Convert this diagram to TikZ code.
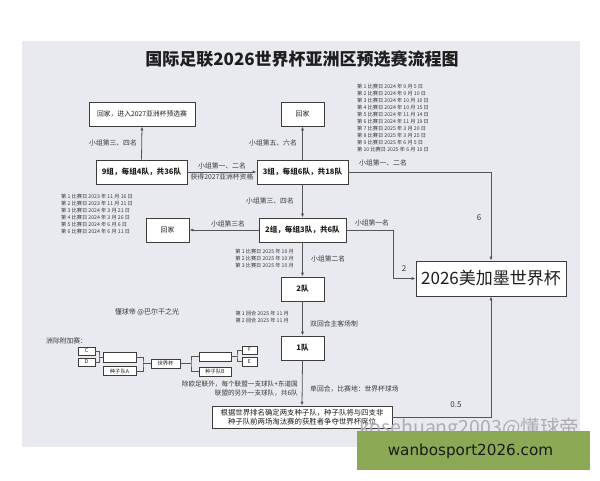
\documentclass[tikz,border=0pt]{standalone}
\usepackage{fontspec}
\setmainfont{Noto Sans CJK SC}
\newfontfamily\wmfont{DejaVu Sans}
\usetikzlibrary{arrows.meta}
\definecolor{panel}{HTML}{E8EAF0}
\definecolor{linec}{HTML}{555555}
\definecolor{boxc}{HTML}{3C3C3C}
\definecolor{txt}{HTML}{1E1E1E}
\definecolor{lab}{HTML}{383838}
\definecolor{banner}{HTML}{8BA954}
\definecolor{wmc}{HTML}{ADADB3}
\tikzset{
 box/.style={draw=boxc, fill=white, line width=0.8pt, inner sep=0pt, text=txt, align=center},
 bbox/.style={box, font=\bfseries\fontsize{7.6}{9}\selectfont},
 rbox/.style={box, font=\fontsize{6.8}{8}\selectfont},
 mini/.style={draw=boxc, fill=white, line width=0.5pt, inner sep=0pt, text=txt, font=\fontsize{5.3}{6}\selectfont},
 lbl/.style={inner sep=0pt, text=lab, font=\fontsize{6.8}{8}\selectfont},
 sched/.style={inner sep=0pt, text=lab, font=\fontsize{5.2}{7}\selectfont},
 arr/.style={draw=linec, line width=0.8pt, -{Latex[length=4pt,width=3.2pt]}},
 conn/.style={draw=linec, line width=0.6pt},
 wmark/.style={inner sep=0pt, anchor=base west, font=\fontsize{19.5}{20}\selectfont},
}
\begin{document}
\begin{tikzpicture}[x=1pt,y=-1pt]
\useasboundingbox (0,0) rectangle (600,480);
\fill[white] (0,0) rectangle (600,480);
\fill[panel] (22,41) rectangle (580,447);

% title
\node[inner sep=0pt, text=txt, font=\bfseries\fontsize{17}{20}\selectfont] (title) at (302,59) {国际足联2026世界杯亚洲区预选赛流程图};

% main boxes
\node[rbox, minimum width=106pt, minimum height=24pt] (h1) at (142,114) {回家，进入2027亚洲杯预选赛};
\node[bbox, minimum width=91pt, minimum height=24pt] (g9) at (141.5,172) {9组，每组4队，共36队};
\node[bbox, minimum width=91pt, minimum height=24pt] (g3) at (302.5,172) {3组，每组6队，共18队};
\node[rbox, minimum width=43pt, minimum height=24pt] (h2) at (302.5,114) {回家};
\node[bbox, minimum width=87pt, minimum height=24pt] (g2) at (302.5,230) {2组，每组3队，共6队};
\node[rbox, minimum width=43pt, minimum height=24pt] (h3) at (167.5,230) {回家};
\node[bbox, minimum width=43pt, minimum height=24pt] (t2) at (302.5,289) {2队};
\node[bbox, minimum width=43pt, minimum height=24pt] (t1) at (302.5,348) {1队};
\node[box, minimum width=150pt, minimum height=35pt, font=\fontsize{17}{20}\selectfont] (wc) at (491,278.5) {2026美加墨世界杯};
\node[box, minimum width=180pt, minimum height=22pt, font=\fontsize{7.4}{9.6}\selectfont] (bb) at (302,417) {根据世界排名确定两支种子队，种子队将与四支非\\种子队前两场淘汰赛的获胜者争夺世界杯席位};

% connectors
\coordinate (k1) at (393,230);
\draw[arr] (g9.north) -- (h1.south);
\draw[arr] (g9.east) -- (g3.west);
\draw[arr] (g3.north) -- (h2.south);
\draw[arr] (g3.south) -- (g2.north);
\draw[arr] (g3.east) -| (wc.north);
\draw[arr] (g2.west) -- (h3.east);
\draw[arr] (g2.east) -- (k1) |- (wc.west);
\draw[arr] (g2.south) -- (t2.north);
\draw[arr] (t2.south) -- (t1.north);
\draw[arr] (t1.south) -- (bb.north);
\draw[arr] (bb.east) -| (wc.south);

% labels
\node[lbl, anchor=east] (l1) at (137,143) {小组第三、四名};
\node[lbl] (l2) at (222,166) {小组第一、二名};
\node[lbl] (l3) at (222,177) {获得2027亚洲杯资格};
\node[lbl, anchor=east] (l4) at (297,143) {小组第五、六名};
\node[lbl, anchor=west] (l5) at (359,163) {小组第一、二名};
\node[lbl, font=\fontsize{8}{9}\selectfont] (l6) at (479,218) {6};
\node[lbl, anchor=east] (l7) at (294,201) {小组第三、四名};
\node[lbl] (l8) at (228,224) {小组第三名};
\node[lbl] (l9) at (372,223) {小组第一名};
\node[lbl, font=\fontsize{8}{9}\selectfont] (l10) at (404,269) {2};
\node[lbl, anchor=west] (l11) at (311,259) {小组第二名};
\node[lbl, anchor=west] (l12) at (310,324) {双回合主客场制};
\node[lbl, anchor=west] (l13) at (310,389) {单回合，比赛地：世界杯球场};
\node[lbl, anchor=north east, align=right, font=\fontsize{6.6}{9}\selectfont] (l14) at (298,380.5) {除欧足联外，每个联盟一支球队+东道国\\联盟的另外一支球队，共6队};
\node[lbl, font=\fontsize{8}{9}\selectfont] (l15) at (456,405) {0.5};
\node[lbl, font=\fontsize{7}{8}\selectfont] (l16) at (147,312) {懂球帝 @巴尔干之光};
\node[lbl, anchor=west] (l17) at (46,341) {洲际附加赛：};

% schedules
\node[sched, anchor=north west, align=left] (s1) at (357,83.5) {第 1 比赛日 2024 年 9 月 5 日\\第 2 比赛日 2024 年 9 月 10 日\\第 3 比赛日 2024 年 10 月 10 日\\第 4 比赛日 2024 年 10 月 15 日\\第 5 比赛日 2024 年 11 月 14 日\\第 6 比赛日 2024 年 11 月 19 日\\第 7 比赛日 2025 年 3 月 20 日\\第 8 比赛日 2025 年 3 月 25 日\\第 9 比赛日 2025 年 6 月 5 日\\第 10 比赛日 2025 年 6 月 10 日};
\node[sched, anchor=north west, align=left] (s2) at (61,193.5) {第 1 比赛日 2023 年 11 月 16 日\\第 2 比赛日 2023 年 11 月 21 日\\第 3 比赛日 2024 年 3 月 21 日\\第 4 比赛日 2024 年 3 月 26 日\\第 5 比赛日 2024 年 6 月 6 日\\第 6 比赛日 2024 年 6 月 11 日};
\node[sched, anchor=north east, align=right] (s3) at (294,248.5) {第 1 比赛日 2025 年 10 月\\第 2 比赛日 2025 年 10 月\\第 3 比赛日 2025 年 10 月};
\node[sched, anchor=north east, align=right] (s4) at (289,310.5) {第 1 回合 2025 年 11 月\\第 2 回合 2025 年 11 月};

% playoff bracket
\node[mini, minimum width=17pt, minimum height=8pt] (C) at (86.5,351) {C};
\node[mini, minimum width=17pt, minimum height=8pt] (D) at (86.5,362) {D};
\node[mini, minimum width=33pt, minimum height=10pt] (eA) at (119.5,357) {};
\node[mini, minimum width=33pt, minimum height=9pt] (sA) at (119.5,371) {种子队A};
\node[mini, minimum width=29pt, minimum height=9pt] (wcb) at (165.5,363.5) {世界杯};
\node[mini, minimum width=32pt, minimum height=9pt] (eB) at (215,356.5) {};
\node[mini, minimum width=32pt, minimum height=9pt] (sB) at (215,371.5) {种子队B};
\node[mini, minimum width=15pt, minimum height=8pt] (F) at (249.5,350) {F};
\node[mini, minimum width=15pt, minimum height=9pt] (E) at (249.5,361.5) {E};
\coordinate (b1) at (99,357);
\coordinate (b2) at (143,363.5);
\coordinate (b3) at (191,363.5);
\coordinate (b4) at (237,356.5);
\draw[conn] (C.east) -| (b1) |- (D.east);
\draw[conn] (b1) -- (eA.west);
\draw[conn] (eA.east) -| (b2) |- (sA.east);
\draw[conn] (b2) -- (wcb.west);
\draw[conn] (wcb.east) -- (b3);
\draw[conn] (eB.west) -| (b3) |- (sB.west);
\draw[conn] (eB.east) -- (b4);
\draw[conn] (F.west) -| (b4) |- (E.west);

% watermark
\node[wmark, text=wmc] (wm) at (359,434) {kosehuang2003@懂球帝};

% banner
\fill[banner] (357,431) rectangle (590,470);
\node[inner sep=0pt, text=black!90, font=\wmfont\fontsize{15.2}{17}\selectfont] (site) at (470.5,451) {wanbosport2026.com};
\end{tikzpicture}
\end{document}
